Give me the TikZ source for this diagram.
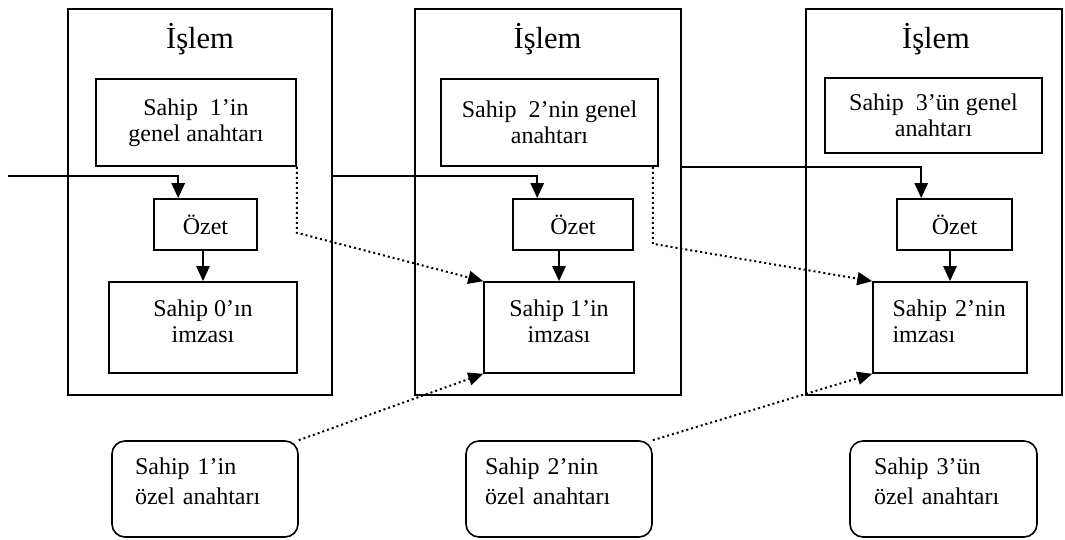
\documentclass[tikz,border=0pt]{standalone}
\usepackage{fontspec}
\setmainfont{Liberation Serif}
\usetikzlibrary{arrows.meta}

\begin{document}
\begin{tikzpicture}[x=1pt, y=-1pt,
	kutu/.style={draw, line width=1.6pt, inner sep=0pt, align=center,
		font=\fontsize{24pt}{26pt}\selectfont},
	islem/.style={kutu, minimum width=#1, minimum height=386pt},
	baslik/.style={anchor=base, font=\fontsize{30.5pt}{32pt}\selectfont},
	imza/.style={kutu, minimum width=#1, minimum height=91pt, text depth=12pt},
	ozel/.style 2 args={kutu, rounded corners=13pt, align=left,
		text width=#1, inner xsep=#2, minimum height=96pt, text depth=45pt,
		font=\fontsize{24pt}{30pt}\selectfont},
	akis/.style={line width=2.5pt, -{Triangle[length=15pt,width=13pt]}},
	nokta/.style={line width=2pt, dash pattern=on 2pt off 3pt,
		-{Triangle[length=15pt,width=13pt]}}]
\useasboundingbox (0,0) rectangle (1065,540);

% islem kutulari
\node[islem=264pt] (islem1) at (200,202) {};
\node[islem=266pt] (islem2) at (548,202) {};
\node[islem=256pt] (islem3) at (934,202) {};
\node[baslik] (baslik1) at (200,49) {İşlem};
\node[baslik] (baslik2) at (547.5,49) {İşlem};
\node[baslik] (baslik3) at (936,49) {İşlem};

% genel anahtarlar
\node[kutu, minimum width=200pt, minimum height=87pt] (genel1) at (196,122.5) {Sahip~ 1’in\\genel anahtarı};
\node[kutu, minimum width=217pt, minimum height=87pt] (genel2) at (549.5,122.5) {Sahip~ 2’nin genel\\anahtarı};
\node[kutu, minimum width=217pt, minimum height=75pt] (genel3) at (933.5,115.5) {Sahip~ 3’ün genel\\anahtarı};

% ozet
\node[kutu, minimum width=103pt, minimum height=51pt] (ozet1) at (205.5,224.5) {Özet};
\node[kutu, minimum width=120pt, minimum height=51pt] (ozet2) at (573,224.5) {Özet};
\node[kutu, minimum width=115pt, minimum height=51pt] (ozet3) at (954.5,224.5) {Özet};

% imzalar
\node[imza=188pt] (imza1) at (203,327.5) {Sahip 0’ın\\imzası};
\node[imza=150pt] (imza2) at (559,327.5) {Sahip 1’in\\imzası};
\node[imza=154pt, align=left, text width=115pt, inner xsep=19.5pt, text depth=38pt] (imza3) at (950,327.5) {Sahip 2’nin\\imzası};

% ozel anahtarlar
\node[ozel={140pt}{23pt}] (ozel1) at (205,489) {Sahip 1’in\\özel anahtarı};
\node[ozel={148pt}{19pt}] (ozel2) at (559,489) {Sahip 2’nin\\özel anahtarı};
\node[ozel={139pt}{24pt}] (ozel3) at (943.5,489) {Sahip 3’ün\\özel anahtarı};

\coordinate (giris) at (8,176);
\draw[akis] (giris) -| ([xshift=25pt]ozet1.north west);
\draw[akis] (islem1.east |- giris) -| ([xshift=25pt]ozet2.north west);
\draw[akis] (genel2.south -| islem2.east) -| ([xshift=25pt]ozet3.north west);

\draw[akis] (ozet1.south -| imza1.north) -- (imza1.north);
\draw[akis] (ozet2.south -| imza2.north) -- (imza2.north);
\draw[akis] (ozet3.south -| imza3.north) -- (imza3.north);

\draw[nokta] (genel1.south east) -- ([yshift=-66pt]genel1.south east) -- (imza2.north west);
\draw[nokta] ([xshift=-6pt]genel2.south east) -- ([xshift=-6pt,yshift=-77pt]genel2.south east) -- (imza3.north west);
\draw[nokta] (ozel1.north east) -- (imza2.south west);
\draw[nokta] (ozel2.north east) -- (imza3.south west);
%\draw[nokta] (ozel3.north east) -- (imza3.south east);
\end{tikzpicture}
\end{document}
